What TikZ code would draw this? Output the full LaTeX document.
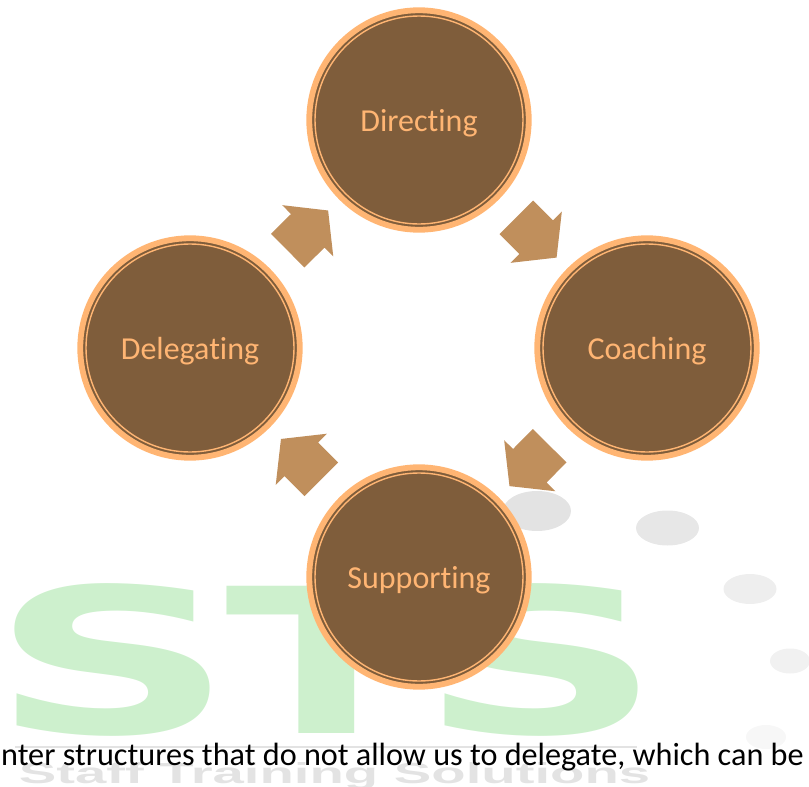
\documentclass[tikz,border=0pt]{standalone}
\usepackage{fontspec}
\setmainfont{Carlito}[Ligatures=CommonOff]
\newfontfamily\markfont{DejaVu Sans}
\newfontfamily\staffont{Liberation Sans}
\usetikzlibrary{shapes, arrows, positioning}

\definecolor{ringpeach}{HTML}{FFB573}
\definecolor{discbrown}{HTML}{7F5D3B}
\definecolor{arrowtan}{HTML}{C08F5C}
\definecolor{markgreen}{HTML}{CDF0CD}
\definecolor{markgrey}{HTML}{E3E3E3}

\tikzset{
  stage/.style={circle, draw=ringpeach, line width=5.8pt, fill=discbrown, minimum size=219.5pt, inner sep=0pt,
    text=ringpeach, font=\fontsize{32}{36}\selectfont, text height=22pt, text depth=0pt},
  thinring/.style={circle, draw=ringpeach, line width=1.4pt, minimum size=208pt, inner sep=0pt},
  blockarrow/.style={single arrow, fill=arrowtan, minimum height=57pt, minimum width=71pt, inner ysep=23.5pt, inner xsep=0pt,
    single arrow head extend=12.5pt, single arrow tip angle=103, sloped, allow upside down, pos=.453},
  markletter/.style={text=markgreen, font=\markfont\bfseries\fontsize{202}{202}\selectfont, anchor=base},
  blob/.style={ellipse, fill=#1, inner sep=0pt}
}

\begin{document}
\begin{tikzpicture}[x=1pt, y=-1pt]
  \useasboundingbox (0,0) rectangle (809,787);

  % watermark
  \node[markletter, xscale=1.68] (m1) at (112.5,733) {S};
  \node[markletter, xscale=1.47] (m2) at (327,733) {T};
  \node[markletter, xscale=1.68] (m3) at (540.5,733) {S};
  \node[text=markgrey, font=\staffont\bfseries\fontsize{29}{29}\selectfont, xscale=1.94, anchor=base west] (staff) at (12,783) {Staff Training Solutions};
  \coordinate (rulea) at (15,747);
  \coordinate (ruleb) at (637,747);
  \draw[markgrey, line width=2.5pt] (rulea) -- (ruleb);
  \node[blob=markgrey, minimum width=68pt, minimum height=40pt] (b1) at (537,511) {};
  \node[blob=markgrey!85!white, minimum width=63pt, minimum height=35pt] (b2) at (667.5,528) {};
  \node[blob=markgrey!60!white, minimum width=53pt, minimum height=30pt] (b3) at (750,589) {};
  \node[blob=markgrey!50!white, minimum width=40pt, minimum height=25pt] (b4) at (790,661) {};
  \node[blob=markgrey!30!white, minimum width=40pt, minimum height=24pt] (b5) at (766,737) {};

  % the four stages
  \node[stage] (D) at (419,120) {Directing};
  \node[stage] (C) at (647,348) {Coaching};
  \node[stage] (S) at (419,577) {Supporting};
  \node[stage] (G) at (190,348) {Delegating};
  \foreach \n in {D,C,S,G} {
    \node[thinring] (\n i) at (\n) {};
  }

  \path (D) -- node[blockarrow] (a1) {} (C);
  \path (C) -- node[blockarrow] (a2) {} (S);
  \path (S) -- node[blockarrow] (a3) {} (G);
  \path (G) -- node[blockarrow] (a4) {} (D);

  % cut off page text
  \node[anchor=base west, inner sep=0pt, font=\fontsize{32.2}{38}\selectfont] (line1) at (1,765) {nter structures that do not allow us to delegate, which can be};
\end{tikzpicture}
\end{document}
